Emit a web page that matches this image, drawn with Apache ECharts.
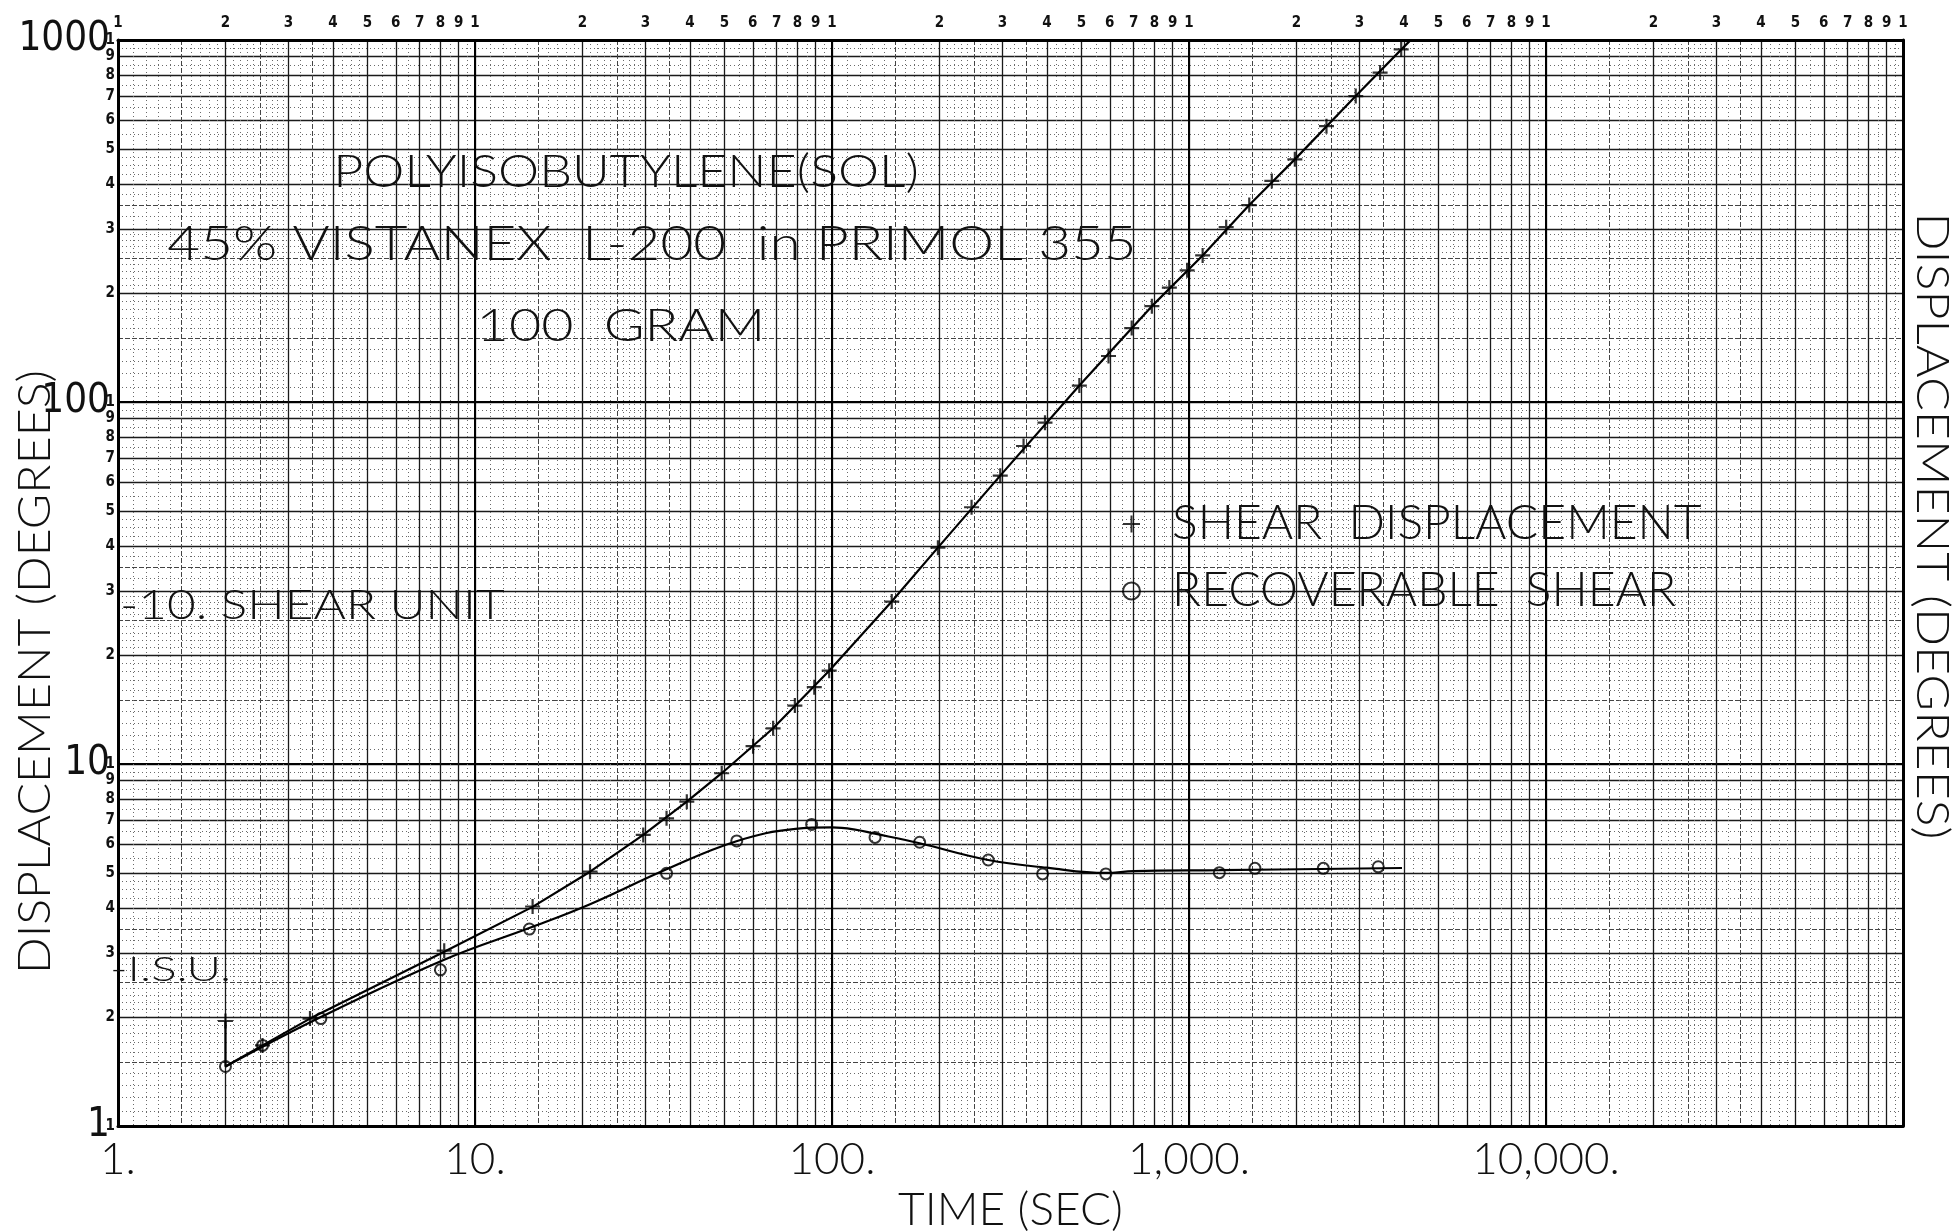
<!DOCTYPE html>
<html>
<head>
<meta charset="utf-8">
<title>Polyisobutylene (sol) creep and recovery</title>
<script src="https://cdn.jsdelivr.net/npm/echarts@6/dist/echarts.min.js"></script>
<style>
  html, body { margin: 0; padding: 0; background: #ffffff; }
  #chart { width: 1953px; height: 1231px; }
</style>
</head>
<body>
<div id="chart"></div>
<script>
// values: [time (sec), displacement (degrees)]
var shearPoints = [
  [2.0, 1.95], [2.54, 1.67], [3.45, 1.98], [8.2, 3.05], [14.5, 4.04], [21, 5.04],
  [29.6, 6.37], [34.4, 7.08], [39.2, 7.87], [49.1, 9.43], [60.1, 11.2], [68.4, 12.55],
  [78.7, 14.5], [89.2, 16.3], [98.2, 18.1], [147, 28.1], [198, 39.6], [246, 51.2],
  [296, 62.6], [344, 75.6], [395, 87.7], [493, 111], [595, 134], [691, 160],
  [787, 184], [881, 207], [988, 231], [1092, 254], [1271, 304], [1475, 350],
  [1706, 408], [1979, 468], [2427, 578], [2931, 700], [3430, 813], [3930, 942]
];
var recovPoints = [
  [2.0, 1.46], [2.54, 1.67], [3.7, 1.98], [8.0, 2.70], [14.2, 3.50], [34.4, 4.99],
  [54.1, 6.13], [87.7, 6.81], [132, 6.27], [176, 6.08], [274, 5.43], [389, 4.97],
  [585, 4.97], [1216, 5.01], [1530, 5.15], [2378, 5.15], [3389, 5.20]
];
// the hand drawn curves through them
var shearCurve = [
  [2.0, 1.95], [2.0, 1.46], [2.54, 1.67], [3.45, 1.98], [8.2, 3.03], [14.5, 4.03],
  [21, 5.04], [29.6, 6.37], [39.2, 7.87], [49.1, 9.43], [68.4, 12.55], [98.2, 18.1],
  [147, 28.1], [198, 39.6], [296, 62.6], [493, 111], [787, 184], [1092, 254],
  [1475, 350], [1979, 468], [2931, 700], [4160, 996]
];
var recovCurve = [
  [2.0, 1.46], [3.7, 2.0], [8.2, 2.88], [14.5, 3.55], [21, 4.1], [34.4, 5.12],
  [54, 6.12], [79, 6.62], [100, 6.68], [115, 6.6], [132, 6.42], [176, 6.04],
  [274, 5.43], [400, 5.17], [585, 5.0], [700, 5.06], [1216, 5.09], [3950, 5.16]
];

// graph paper rulings
var xDecades = [1, 10, 100, 1000, 10000, 100000];
var xDecadeLabels = ['1.', '10.', '100.', '1,000.', '10,000.'];
var yDecades = [1, 10, 100, 1000];
var yDecadeLabels = ['1', '10', '100', '1000'];
var majorMults = [1, 2, 3, 4, 5, 6, 7, 8, 9];
var halfMults = [1.5, 2.5, 3.5];
var fineMults = [1.1, 1.2, 1.3, 1.4, 1.6, 1.7, 1.8, 1.9, 2.1, 2.2, 2.3, 2.4, 2.6, 2.7, 2.8, 2.9,
  3.25, 3.75, 4.25, 4.5, 4.75, 5.5, 6.5, 7.5, 8.5, 9.5];

function rulings(mults, decades, withEnd) {
  var out = [];
  for (var i = 0; i < decades.length - 1; i++) {
    mults.forEach(function (m) { out.push(m * decades[i]); });
  }
  if (withEnd) out.push(decades[decades.length - 1]);
  return out;
}
function leadDigit(v) {
  return String(Math.round(v)).charAt(0);
}

var thin = 'Lato';
var narrow = "'Liberation Sans Narrow', 'DejaVu Sans Condensed', 'Liberation Sans', sans-serif";
var plus = 'path://M5,0L5,10M0,5L10,5';

var xMajor = rulings(majorMults, xDecades, true);
var yMajor = rulings(majorMults, yDecades, true);

function sheetAxis(kind, pos, ticks, line) {
  return {
    type: 'log', min: 1, max: kind === 'x' ? 100000 : 1000, position: pos,
    axisLine: { show: false },
    axisTick: { show: false, customValues: ticks },
    axisLabel: { show: false },
    splitLine: { show: true, lineStyle: line }
  };
}

var chart = echarts.init(document.getElementById('chart'));

var xAxes = [
  {
    type: 'log', min: 1, max: 100000, position: 'bottom',
    axisLine: { show: true, lineStyle: { color: '#000', width: 3 } },
    axisTick: { show: false, customValues: xMajor },
    axisLabel: {
      customValues: xDecades.slice(0, 5),
      formatter: function (v) { return xDecadeLabels[Math.round(Math.log10(v))]; },
      fontFamily: thin, fontWeight: 300, fontSize: 44, color: '#111', margin: 12
    },
    splitLine: { show: true, lineStyle: { color: '#1a1a1a', width: 1.3 } },
    name: 'TIME (SEC)', nameLocation: 'middle', nameGap: 56,
    nameTextStyle: { fontFamily: thin, fontWeight: 300, fontSize: 46, color: '#111' }
  },
  {
    type: 'log', min: 1, max: 100000, position: 'top',
    axisLine: { show: true, lineStyle: { color: '#000', width: 3 } },
    axisTick: { show: false, customValues: rulings(halfMults, xDecades, false) },
    axisLabel: {
      customValues: xMajor, formatter: leadDigit,
      fontFamily: narrow, fontWeight: 'bold', fontSize: 15, color: '#111', margin: 9
    },
    splitLine: { show: true, lineStyle: { color: '#444', width: 1, type: [5, 2] } }
  },
  sheetAxis('x', 'bottom', rulings(fineMults, xDecades, false), { color: '#6a6a6a', width: 1, type: [1, 3] }),
  sheetAxis('x', 'bottom', xDecades, { color: '#000', width: 2 })
];

var yAxes = [
  {
    type: 'log', min: 1, max: 1000, position: 'left',
    axisLine: { show: true, lineStyle: { color: '#000', width: 3 } },
    axisTick: { show: false, customValues: yMajor },
    axisLabel: {
      customValues: yDecades,
      formatter: function (v) { return yDecadeLabels[Math.round(Math.log10(v))]; },
      fontFamily: narrow, fontSize: 40, color: '#111', margin: 8,
      padding: [0, 0, 18, 0]
    },
    splitLine: { show: true, lineStyle: { color: '#1a1a1a', width: 1.3 } }
  },
  {
    type: 'log', min: 1, max: 1000, position: 'left',
    axisLine: { show: false },
    axisTick: { show: false, customValues: rulings(halfMults, yDecades, false) },
    axisLabel: {
      customValues: yMajor, formatter: leadDigit,
      fontFamily: narrow, fontWeight: 'bold', fontSize: 15, color: '#111', margin: 3
    },
    splitLine: { show: true, lineStyle: { color: '#444', width: 1, type: [5, 2] } }
  },
  {
    type: 'log', min: 1, max: 1000, position: 'right',
    axisLine: { show: true, lineStyle: { color: '#000', width: 3 } },
    axisTick: { show: false, customValues: rulings(fineMults, yDecades, false) },
    axisLabel: { show: false },
    splitLine: { show: true, lineStyle: { color: '#6a6a6a', width: 1, type: [1, 3] } }
  },
  sheetAxis('y', 'left', yDecades, { color: '#000', width: 2 })
];

function note(text, x, y, size, stretch, align, rot) {
  return {
    type: 'text', x: x, y: y, z: 10, scaleX: stretch, rotation: rot || 0,
    style: {
      text: text, fill: '#111', align: align || 'center', verticalAlign: 'middle',
      fontFamily: thin, fontWeight: 300, fontSize: size
    }
  };
}

chart.setOption({
  backgroundColor: '#ffffff',
  animation: false,
  grid: { left: 118, top: 40, width: 1785, height: 1086, containLabel: false, outerBoundsMode: 'none' },
  xAxis: xAxes,
  yAxis: yAxes,
  legend: {
    data: [
      { name: 'SHEAR  DISPLACEMENT', icon: plus },
      { name: 'RECOVERABLE  SHEAR', icon: 'circle' }
    ],
    orient: 'vertical', left: 1122, top: 500, itemGap: 19,
    itemWidth: 17, itemHeight: 17, selectedMode: false, padding: 0,
    textStyle: { fontFamily: thin, fontWeight: 300, fontSize: 48, color: '#111', padding: [0, 0, 0, 27] }
  },
  graphic: [
    note('POLYISOBUTYLENE(SOL)', 626, 172, 46, 1.13),
    note('45% VISTANEX  L-200  in PRIMOL 355', 652, 245, 48, 1.18),
    note('100  GRAM', 621, 326, 46, 1.21),
    note('-10. SHEAR UNIT', 120, 605, 42, 1.18, 'left'),
    note('-I.S.U.', 110, 970, 34, 1.4, 'left'),
    note('DISPLACEMENT (DEGREES)', 35, 672, 46, 1.05, 'center', Math.PI / 2),
    note('DISPLACEMENT (DEGREES)', 1932, 526, 46, 1.09, 'center', -Math.PI / 2)
  ],
  series: [
    {
      name: 'shearCurve', type: 'line', data: shearCurve, symbol: 'none', smooth: false,
      lineStyle: { color: '#000', width: 2.2 }, z: 5, silent: true
    },
    {
      name: 'recovCurve', type: 'line', data: recovCurve, symbol: 'none', smooth: 0.4,
      lineStyle: { color: '#000', width: 2.2 }, z: 5, silent: true
    },
    {
      name: 'SHEAR  DISPLACEMENT', type: 'scatter', data: shearPoints, symbol: plus, symbolSize: 15,
      itemStyle: { color: '#000', borderColor: '#000', borderWidth: 2.2 }, z: 6
    },
    {
      name: 'RECOVERABLE  SHEAR', type: 'scatter', data: recovPoints, symbol: 'circle', symbolSize: 11,
      itemStyle: { color: 'rgba(0,0,0,0)', borderColor: '#000', borderWidth: 2 }, z: 6
    }
  ]
});
</script>
</body>
</html>
